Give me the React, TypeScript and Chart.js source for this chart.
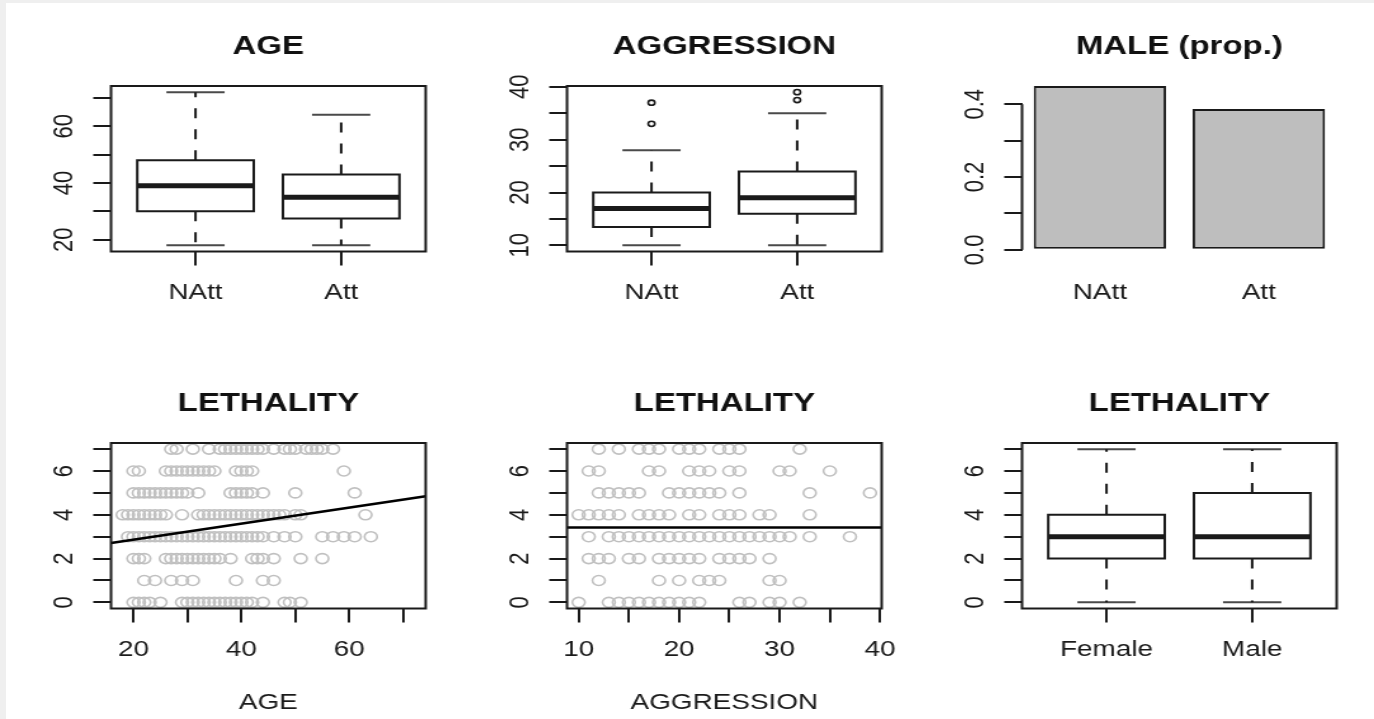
import React, { useEffect, useRef } from 'react';
import { Chart, registerables } from 'chart.js';

Chart.register(...registerables);

const FONT = '"Liberation Sans", Arial, Helvetica, sans-serif';
const INK = '#1a1a1a';
const CAP_INK = '#4a4a4a';
const POINT_GREY = '#c0c0c0';
const BAR_GREY = '#bebebe';

// ---------------- data ----------------
const groupLabels = ['NAtt', 'Att'];
const groupPositions = [1, 2];

// AGE by group (boxplot stats)
const ageMin = [18, 18];
const ageQ1 = [30, 27.5];
const ageMedian = [39, 35];
const ageQ3 = [48, 43];
const ageMax = [72, 64];
const ageOutliers: number[][] = [[], []];
const ageYTicks = [20, 30, 40, 50, 60, 70];
const ageYTickLabels = ['20', '', '40', '', '60', ''];

// AGGRESSION by group (boxplot stats)
const aggMin = [10, 10];
const aggQ1 = [13.5, 16];
const aggMedian = [17, 19];
const aggQ3 = [20, 24];
const aggMax = [28, 35];
const aggOutliers: number[][] = [[33, 37], [37.5, 39]];
const aggYTicks = [10, 15, 20, 25, 30, 35, 40];
const aggYTickLabels = ['10', '', '20', '', '30', '', '40'];

// MALE proportion by group
const maleProp = [0.45, 0.387];
const barPositions = [0.7, 1.9];
const propYTicks = [0, 0.1, 0.2, 0.3, 0.4];
const propYTickLabels = ['0.0', '', '0.2', '', '0.4'];

// LETHALITY (0..7)
const lethalityLevels = [0, 1, 2, 3, 4, 5, 6, 7];
const lethYTicks = [0, 1, 2, 3, 4, 5, 6, 7];
const lethYTickLabels = ['0', '', '2', '', '4', '', '6', ''];

// ages observed at each lethality level (index = lethality)
const ageByLethality: number[][] = [
  [20, 21, 22, 23, 25, 29, 30, 31, 32, 33, 34, 35, 36, 37, 38, 39, 40, 41, 42, 44, 48, 49, 51],
  [22, 24, 27, 29, 31, 39, 44, 46],
  [20, 21, 22, 26, 27, 28, 29, 30, 31, 32, 33, 34, 35, 36, 38, 42, 43, 44, 46, 51, 55],
  [19, 20, 21, 22, 23, 24, 25, 26, 27, 28, 29, 30, 31, 32, 33, 34, 35, 36, 37, 38, 39, 40, 41, 42, 43, 44, 46, 48, 50, 55, 57, 59, 61, 64],
  [18, 19, 20, 21, 22, 23, 24, 25, 26, 29, 32, 33, 34, 35, 36, 37, 38, 39, 40, 41, 42, 43, 44, 45, 46, 47, 48, 50, 51, 63],
  [20, 21, 22, 23, 24, 25, 26, 27, 28, 29, 30, 32, 38, 39, 40, 41, 42, 44, 50, 61],
  [20, 21, 26, 27, 28, 29, 30, 31, 32, 33, 34, 35, 39, 40, 41, 42, 59],
  [27, 28, 31, 34, 36, 37, 38, 39, 40, 41, 42, 43, 44, 46, 48, 49, 50, 52, 53, 54, 55, 57],
];
const ageFitCoef = [2.13, 0.0366]; // intercept, slope
const ageXTicks = [20, 30, 40, 50, 60, 70];
const ageXTickLabels = ['20', '', '40', '', '60', ''];

// aggression observed at each lethality level (index = lethality)
const aggByLethality: number[][] = [
  [10, 13, 14, 15, 16, 17, 18, 19, 20, 21, 22, 26, 27, 29, 30, 32],
  [12, 18, 20, 22, 23, 24, 29, 30],
  [11, 12, 13, 15, 16, 18, 19, 20, 21, 22, 24, 25, 26, 27, 29],
  [11, 13, 14, 15, 16, 17, 18, 19, 20, 21, 22, 23, 24, 25, 26, 27, 28, 29, 30, 31, 33, 37],
  [10, 11, 12, 13, 14, 16, 17, 18, 19, 21, 22, 24, 25, 26, 28, 29, 33],
  [12, 13, 14, 15, 16, 19, 20, 21, 22, 23, 24, 26, 33, 39],
  [11, 12, 17, 18, 21, 22, 23, 25, 26, 30, 31, 35],
  [12, 14, 16, 17, 18, 20, 21, 22, 24, 25, 26, 32],
];
const aggFitCoef = [3.42, 0]; // intercept, slope
const aggXTicks = [10, 15, 20, 25, 30, 35, 40];
const aggXTickLabels = ['10', '', '20', '', '30', '', '40'];

// LETHALITY by sex (boxplot stats)
const sexLabels = ['Female', 'Male'];
const lethMin = [0, 0];
const lethQ1 = [2, 2];
const lethMedian = [3, 3];
const lethQ3 = [4, 5];
const lethMax = [7, 7];
const lethOutliers: number[][] = [[], []];

// ---------------- layout ----------------
const CANVAS_W = 361;
const CANVAS_H = 362;
const CSS_W = 458;
const COL_LEFT = [0, 456, 911];
const ROW_TOP = [0, 357];
const AREA = { left: 87.5, right: 335.5, top: 86, bottom: 251.5 };
const BOX_HALF = 0.4;
const CAP_HALF = 0.2;

const rRange = (lo: number, hi: number) => [lo - 0.04 * (hi - lo), hi + 0.04 * (hi - lo)];

const lineDs = (data: any[], color: string, width: number, extra: any = {}) => ({
  type: 'scatter',
  data,
  showLine: true,
  borderColor: color,
  borderWidth: width,
  pointRadius: 0,
  pointHoverRadius: 0,
  spanGaps: false,
  fill: false,
  tension: 0,
  ...extra,
});

function boxplotDatasets(pos: number[], mn: number[], q1: number[], md: number[], q3: number[], mx: number[], out: number[][]) {
  const gap = (x: number) => ({ x, y: null });
  const box = pos.flatMap((x, i) => [
    { x: x - BOX_HALF, y: q1[i] }, { x: x + BOX_HALF, y: q1[i] }, { x: x + BOX_HALF, y: q3[i] },
    { x: x - BOX_HALF, y: q3[i] }, { x: x - BOX_HALF, y: q1[i] }, gap(x),
  ]);
  const med = pos.flatMap((x, i) => [{ x: x - BOX_HALF, y: md[i] }, { x: x + BOX_HALF, y: md[i] }, gap(x)]);
  const whisk = pos.flatMap((x, i) => [
    { x, y: q3[i] }, { x, y: mx[i] }, gap(x), { x, y: q1[i] }, { x, y: mn[i] }, gap(x),
  ]);
  const caps = pos.flatMap((x, i) => [
    { x: x - CAP_HALF, y: mx[i] }, { x: x + CAP_HALF, y: mx[i] }, gap(x),
    { x: x - CAP_HALF, y: mn[i] }, { x: x + CAP_HALF, y: mn[i] }, gap(x),
  ]);
  const outl = pos.flatMap((x, i) => out[i].map((y) => ({ x, y })));
  return [
    lineDs(med, INK, 5, { borderCapStyle: 'butt' }),
    lineDs(box, INK, 2, { borderCapStyle: 'square', borderJoinStyle: 'miter' }),
    lineDs(whisk, INK, 2, { borderDash: [10, 11], borderCapStyle: 'butt' }),
    lineDs(caps, CAP_INK, 2),
    {
      type: 'scatter', data: outl, showLine: false, pointRadius: 2.6, pointBorderWidth: 1.6,
      pointBorderColor: INK, pointBackgroundColor: 'rgba(0,0,0,0)', pointHoverRadius: 2.6,
    },
  ];
}

function scatterDatasets(byLevel: number[][], coef: number[], xr: number[]) {
  const pts = lethalityLevels.flatMap((l) => byLevel[l].map((v) => ({ x: v, y: l })));
  const fit = xr.map((x) => ({ x, y: coef[0] + coef[1] * x }));
  return [
    lineDs(fit, '#000000', 2.5),
    {
      type: 'scatter', data: pts, showLine: false, pointRadius: 5, pointBorderWidth: 1.6,
      pointBorderColor: POINT_GREY, pointBackgroundColor: 'rgba(0,0,0,0)', pointHoverRadius: 5,
    },
  ];
}

function makeConfig(p: any) {
  const plugin = {
    id: 'rstyle',
    afterDraw(chart: any) {
      const { ctx, chartArea: a } = chart;
      const ys = chart.scales.y;
      ctx.save();
      ctx.strokeStyle = INK;
      ctx.lineWidth = 2;
      if (p.frame) ctx.strokeRect(a.left, a.top, a.right - a.left, a.bottom - a.top);
      if (p.yAxisLine) {
        ctx.beginPath();
        ctx.moveTo(a.left, ys.getPixelForValue(p.yAxisLine[0]));
        ctx.lineTo(a.left, ys.getPixelForValue(p.yAxisLine[1]));
        ctx.stroke();
      }
      ctx.fillStyle = INK;
      ctx.font = `22px ${FONT}`;
      ctx.textAlign = 'center';
      ctx.textBaseline = 'alphabetic';
      p.y.ticks.forEach((v: number, i: number) => {
        const lab = p.y.labels[i];
        if (!lab) return;
        ctx.save();
        ctx.translate(a.left - 31, ys.getPixelForValue(v));
        ctx.rotate(-Math.PI / 2);
        ctx.fillText(lab, 0, 0);
        ctx.restore();
      });
      ctx.restore();
    },
  };

  return {
    type: p.type,
    data: { datasets: p.datasets },
    plugins: [plugin],
    options: {
      responsive: false,
      animation: false,
      devicePixelRatio: 1,
      events: [],
      layout: { autoPadding: false, padding: { left: 0, top: 0, right: CANVAS_W - AREA.right, bottom: 0 } },
      plugins: {
        legend: { display: false },
        tooltip: { enabled: false },
        title: {
          display: true,
          text: p.title,
          fullSize: false,
          color: '#111111',
          font: { family: FONT, size: 26, weight: 'bold' },
          padding: { top: 31, bottom: AREA.top - 31 - 26 * 1.2 },
        },
      },
      scales: {
        x: {
          type: 'linear',
          min: p.x.range[0],
          max: p.x.range[1],
          offset: false,
          afterFit: (s: any) => { s.height = CANVAS_H - AREA.bottom; },
          afterBuildTicks: (s: any) => { s.ticks = p.x.ticks.map((v: number) => ({ value: v })); },
          border: { display: false },
          grid: {
            offset: false,
            drawOnChartArea: false,
            drawTicks: true,
            tickLength: 14,
            lineWidth: 2,
            color: p.x.marks ? INK : 'rgba(0,0,0,0)',
          },
          ticks: {
            autoSkip: false,
            maxRotation: 0,
            minRotation: 0,
            padding: 14,
            color: INK,
            font: { family: FONT, size: 22 },
            callback: (_v: any, i: number) => p.x.labels[i] ?? '',
          },
          title: p.x.title
            ? { display: true, text: p.x.title, color: INK, font: { family: FONT, size: 22 }, padding: { top: 0, bottom: 2.8 } }
            : { display: false },
        },
        y: {
          type: 'linear',
          min: p.y.range[0],
          max: p.y.range[1],
          afterFit: (s: any) => { s.width = AREA.left; },
          afterBuildTicks: (s: any) => { s.ticks = p.y.ticks.map((v: number) => ({ value: v })); },
          border: { display: false },
          grid: { drawOnChartArea: false, drawTicks: true, tickLength: 14, lineWidth: 2, color: INK },
          ticks: { display: false },
        },
      },
    },
  };
}

const boxXRange = rRange(0.5, 2.5);
const ageRange = rRange(18, 72);
const aggRange = rRange(10, 39);
const lethRange = rRange(0, 7);
const propXRange = rRange(0.2, 2.4);
const propYRange = [-0.01 * maleProp[0], maleProp[0]];

const panels = [
  {
    col: 0, row: 0,
    config: () => makeConfig({
      type: 'scatter', title: 'AGE', frame: true,
      datasets: boxplotDatasets(groupPositions, ageMin, ageQ1, ageMedian, ageQ3, ageMax, ageOutliers),
      x: { range: boxXRange, ticks: groupPositions, labels: groupLabels, marks: true },
      y: { range: ageRange, ticks: ageYTicks, labels: ageYTickLabels },
    }),
  },
  {
    col: 1, row: 0,
    config: () => makeConfig({
      type: 'scatter', title: 'AGGRESSION', frame: true,
      datasets: boxplotDatasets(groupPositions, aggMin, aggQ1, aggMedian, aggQ3, aggMax, aggOutliers),
      x: { range: boxXRange, ticks: groupPositions, labels: groupLabels, marks: true },
      y: { range: aggRange, ticks: aggYTicks, labels: aggYTickLabels },
    }),
  },
  {
    col: 2, row: 0,
    config: () => makeConfig({
      type: 'bar', title: 'MALE (prop.)', frame: false, yAxisLine: [propYTicks[0], propYTicks[propYTicks.length - 1]],
      datasets: [{
        type: 'bar',
        data: barPositions.map((x, i) => ({ x, y: maleProp[i] })),
        backgroundColor: BAR_GREY,
        borderColor: INK,
        borderWidth: 2,
        borderSkipped: false,
        categoryPercentage: 1,
        barPercentage: 1 / 1.2,
      }],
      x: { range: propXRange, ticks: barPositions, labels: groupLabels, marks: false },
      y: { range: propYRange, ticks: propYTicks, labels: propYTickLabels },
    }),
  },
  {
    col: 0, row: 1,
    config: () => makeConfig({
      type: 'scatter', title: 'LETHALITY', frame: true,
      datasets: scatterDatasets(ageByLethality, ageFitCoef, ageRange),
      x: { range: ageRange, ticks: ageXTicks, labels: ageXTickLabels, marks: true, title: 'AGE' },
      y: { range: lethRange, ticks: lethYTicks, labels: lethYTickLabels },
    }),
  },
  {
    col: 1, row: 1,
    config: () => makeConfig({
      type: 'scatter', title: 'LETHALITY', frame: true,
      datasets: scatterDatasets(aggByLethality, aggFitCoef, aggRange),
      x: { range: aggRange, ticks: aggXTicks, labels: aggXTickLabels, marks: true, title: 'AGGRESSION' },
      y: { range: lethRange, ticks: lethYTicks, labels: lethYTickLabels },
    }),
  },
  {
    col: 2, row: 1,
    config: () => makeConfig({
      type: 'scatter', title: 'LETHALITY', frame: true,
      datasets: boxplotDatasets(groupPositions, lethMin, lethQ1, lethMedian, lethQ3, lethMax, lethOutliers),
      x: { range: boxXRange, ticks: groupPositions, labels: sexLabels, marks: true },
      y: { range: lethRange, ticks: lethYTicks, labels: lethYTickLabels },
    }),
  },
];

function Panel({ col, row, config }: { col: number; row: number; config: () => any }) {
  const ref = useRef<HTMLCanvasElement | null>(null);
  useEffect(() => {
    if (!ref.current) return;
    const chart = new Chart(ref.current, config());
    return () => chart.destroy();
  }, []);
  return (
    <canvas
      ref={ref}
      width={CANVAS_W}
      height={CANVAS_H}
      style={{ position: 'absolute', left: COL_LEFT[col], top: ROW_TOP[row], width: CSS_W, height: CANVAS_H }}
    />
  );
}

export default function App() {
  return (
    <div style={{ position: 'absolute', left: 0, top: 0, width: 1374, height: 719, background: '#efefef', overflow: 'hidden' }}>
      <div style={{ position: 'absolute', left: 6, top: 3, right: 0, bottom: 0, background: '#ffffff' }} />
      {panels.map((p, i) => (
        <Panel key={i} col={p.col} row={p.row} config={p.config} />
      ))}
    </div>
  );
}
